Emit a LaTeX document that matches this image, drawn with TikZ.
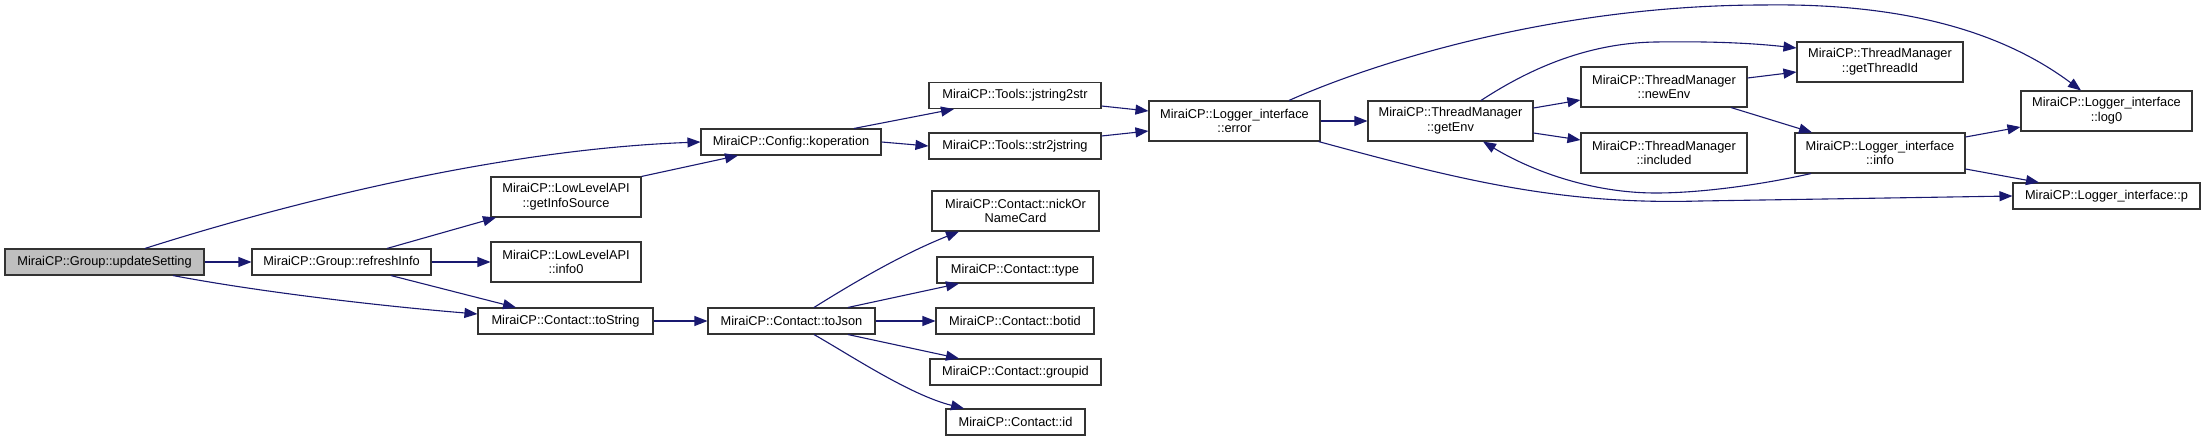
\documentclass[tikz,border=0pt]{standalone}
\usepackage{fontspec}
\setmainfont{Liberation Sans}
\usetikzlibrary{arrows.meta}
\definecolor{edgeblue}{HTML}{191970}
\definecolor{boxgray}{HTML}{BFBFBF}
\definecolor{boxline}{HTML}{333333}
\begin{document}
\begin{tikzpicture}[x=1pt,y=-1pt,
  box/.style={draw=boxline, line width=1.1pt, fill=white, inner sep=0pt, align=center,
              font=\fontsize{12.8}{14.7}\selectfont},
  sz/.style 2 args={minimum width=#1pt, minimum height=#2pt},
  edge/.style={draw=edgeblue, line width=1.1pt, -{Triangle[length=13pt,width=10pt]}}]
\useasboundingbox (0,0) rectangle (2205,441);

% nodes
\node[box,sz={199}{26},fill=boxgray] (us) at (104.5,262) {MiraiCP::Group::updateSetting};
\node[box,sz={179}{26}] (ri) at (341.5,262) {MiraiCP::Group::refreshInfo};
\node[box,sz={150}{40}] (gis) at (566,197) {MiraiCP::LowLevelAPI\\::getInfoSource};
\node[box,sz={150}{40}] (i0) at (566,262) {MiraiCP::LowLevelAPI\\::info0};
\node[box,sz={175}{26}] (ts) at (565.5,321) {MiraiCP::Contact::toString};
\node[box,sz={180}{26}] (kop) at (791,142) {MiraiCP::Config::koperation};
\node[box,sz={167}{26}] (tj) at (791.5,321) {MiraiCP::Contact::toJson};
\node[box,sz={172}{26}] (j2s) at (1015,95.5) {MiraiCP::Tools::jstring2str};
\node[box,sz={172}{26}] (s2j) at (1015,146) {MiraiCP::Tools::str2jstring};
\node[box,sz={167}{40}] (nick) at (1015.5,211) {MiraiCP::Contact::nickOr\\NameCard};
\node[box,sz={156}{26}] (type) at (1015,270) {MiraiCP::Contact::type};
\node[box,sz={158}{26}] (botid) at (1015,321) {MiraiCP::Contact::botid};
\node[box,sz={171}{26}] (gid) at (1015.5,372) {MiraiCP::Contact::groupid};
\node[box,sz={139}{26}] (id) at (1015.5,422) {MiraiCP::Contact::id};
\node[box,sz={171}{40}] (err) at (1234.5,121) {MiraiCP::Logger\_interface\\::error};
\node[box,sz={165}{40}] (ge) at (1450.5,121) {MiraiCP::ThreadManager\\::getEnv};
\node[box,sz={166}{40}] (ne) at (1664,87) {MiraiCP::ThreadManager\\::newEnv};
\node[box,sz={166}{40}] (inc) at (1664,153) {MiraiCP::ThreadManager\\::included};
\node[box,sz={166}{40}] (gti) at (1880,62) {MiraiCP::ThreadManager\\::getThreadId};
\node[box,sz={170}{40}] (info) at (1880,153) {MiraiCP::Logger\_interface\\::info};
\node[box,sz={171}{40}] (log0) at (2106.5,111) {MiraiCP::Logger\_interface\\::log0};
\node[box,sz={187}{26}] (p) at (2106.5,196) {MiraiCP::Logger\_interface::p};

% edges
\draw[edge] (us.east) -- (ri.west);
\draw[edge] ([xshift=40.5pt]us.north) .. controls (250,215) and (480,150) .. (kop.west);
\draw[edge] ([xshift=68.5pt]us.south) .. controls (260,292) and (380,306) .. ([yshift=7pt]ts.west);
\draw[edge] ([xshift=45.5pt]ri.north) -- ([xshift=-70pt]gis.south);
\draw[edge] (ri.east) -- (i0.west);
\draw[edge] ([xshift=49.5pt]ri.south) -- ([xshift=-49.5pt]ts.north);
\draw[edge] (gis.north east) -- ([xshift=-53pt]kop.south);
\draw[edge] (ts.east) -- (tj.west);
\draw[edge] ([xshift=63pt]kop.north) -- ([xshift=-61pt]j2s.south);
\draw[edge] (kop.east) -- (s2j.west);
\draw[edge] ([yshift=-10.5pt]j2s.east) -- ([yshift=10pt]err.west);
\draw[edge] ([yshift=10pt]s2j.east) -- ([yshift=-10pt]err.west);
\draw[edge] (err.east) -- (ge.west);
\draw[edge] ([xshift=54.5pt]err.north) .. controls (1380,60) and (1560,5) .. (1764,5)
   .. controls (1900,3) and (2000,30) .. ([xshift=-25.5pt]log0.north);
\draw[edge] ([xshift=-2pt]err.south east) .. controls (1460,180) and (1560,205) .. (1700,201) -- (p.west);
\draw[edge] ([yshift=13pt]ge.east) -- ([yshift=-13pt]ne.west);
\draw[edge] ([yshift=-12pt]ge.east) -- ([yshift=13pt]inc.west);
\draw[edge] ([xshift=30.5pt]ge.north) .. controls (1520,75) and (1580,43) .. (1656,42)
   .. controls (1720,41) and (1760,44) .. ([yshift=14pt]gti.west);
\draw[edge] ([yshift=9pt]ne.east) -- ([yshift=-10pt]gti.west);
\draw[edge] ([xshift=67pt]ne.south) -- ([xshift=-68pt]info.north);
\draw[edge] ([xshift=-69pt]info.south) .. controls (1760,185) and (1700,193) .. (1656,193)
   .. controls (1590,193) and (1530,170) .. ([xshift=32.5pt]ge.south);
\draw[edge] ([yshift=16pt]info.east) -- ([yshift=-16pt]log0.west);
\draw[edge] ([yshift=-16pt]info.east) -- ([xshift=-67.5pt]p.north);
\draw[edge] ([xshift=22.5pt]tj.north) .. controls (850,285) and (900,255) .. ([xshift=-56.5pt]nick.south);
\draw[edge] ([xshift=56.5pt]tj.north) -- ([xshift=-56pt]type.south);
\draw[edge] (tj.east) -- (botid.west);
\draw[edge] ([xshift=56.5pt]tj.south) -- ([xshift=-56.5pt]gid.north);
\draw[edge] ([xshift=22.5pt]tj.south) .. controls (850,355) and (910,395) .. ([xshift=-51.5pt]id.north);
\end{tikzpicture}
\end{document}
